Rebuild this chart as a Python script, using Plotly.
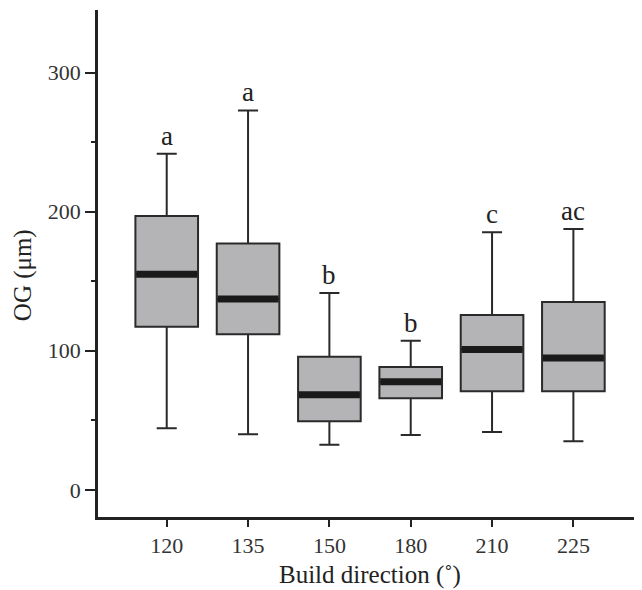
import plotly.graph_objects as go

categories = ["120", "135", "150", "180", "210", "225"]
lower_whisker = [44.3, 40.0, 32.5, 39.5, 41.6, 35.0]
q1_values = [117.2, 111.8, 49.3, 65.8, 70.9, 70.9]
median_values = [155.0, 137.3, 68.4, 77.8, 101.0, 94.8]
q3_values = [196.9, 177.1, 95.7, 88.3, 125.8, 135.0]
upper_whisker = [241.7, 272.8, 141.6, 107.2, 185.2, 187.6]
group_letters = ["a", "a", "b", "b", "c", "ac"]

y_ticks = [0, 100, 200, 300]

FONT = "Liberation Serif, Times New Roman, serif"
BOX_W = 0.77
positions = list(range(len(categories)))

fig = go.Figure()
for i, cat in enumerate(categories):
    fig.add_trace(go.Box(
        x=[positions[i]], q1=[q1_values[i]], median=[median_values[i]],
        q3=[q3_values[i]], lowerfence=[lower_whisker[i]], upperfence=[upper_whisker[i]],
        width=BOX_W, whiskerwidth=0.32,
        fillcolor="#b4b4b7", line=dict(color="#2a2a2a", width=2),
        showlegend=False, hoverinfo="skip",
    ))

# thick median bars
mx, my = [], []
for i in positions:
    mx += [i - BOX_W / 2 + 0.01, i + BOX_W / 2 - 0.01, None]
    my += [median_values[i], median_values[i], None]
fig.add_trace(go.Scatter(x=mx, y=my, mode="lines",
                         line=dict(color="#1a1a1a", width=7),
                         showlegend=False, hoverinfo="skip"))

for i in positions:
    fig.add_annotation(x=i, y=upper_whisker[i], text=group_letters[i],
                       showarrow=False, yanchor="bottom", yshift=1,
                       font=dict(family=FONT, size=27, color="#222"))

fig.add_annotation(x=-0.1394, y=0.477, xref="paper", yref="paper",
                   text="OG (μm)", textangle=-90, showarrow=False,
                   xanchor="center", yanchor="middle",
                   font=dict(family=FONT, size=25, color="#222"))
fig.add_annotation(x=0.5056, y=-0.114, xref="paper", yref="paper",
                   text="Build direction (˚)", showarrow=False,
                   xanchor="center", yanchor="middle",
                   font=dict(family=FONT, size=25, color="#222"))

fig.update_layout(
    width=634, height=582,
    margin=dict(l=90, r=6, t=2, b=73),
    paper_bgcolor="white", plot_bgcolor="white",
    font=dict(family=FONT, size=21, color="#333"),
    xaxis=dict(range=[-0.845, 5.77], tickvals=positions, ticktext=categories,
               showline=True, linewidth=2.5, linecolor="#222",
               ticks="outside", ticklen=7, tickwidth=2, tickcolor="#222",
               showgrid=False, zeroline=False,
               tickfont=dict(family=FONT, size=22, color="#333")),
    yaxis=dict(range=[-19.5, 345], tickvals=y_ticks,
               showline=True, linewidth=2.5, linecolor="#222",
               ticks="outside", ticklen=10, tickwidth=2, tickcolor="#222",
               minor=dict(tickvals=[50, 150, 250], ticks="outside", ticklen=4,
                          tickwidth=2, tickcolor="#222", showgrid=False),
               showgrid=False, zeroline=False,
               tickfont=dict(family=FONT, size=22, color="#333")),
)

fig.write_html("out.html")
